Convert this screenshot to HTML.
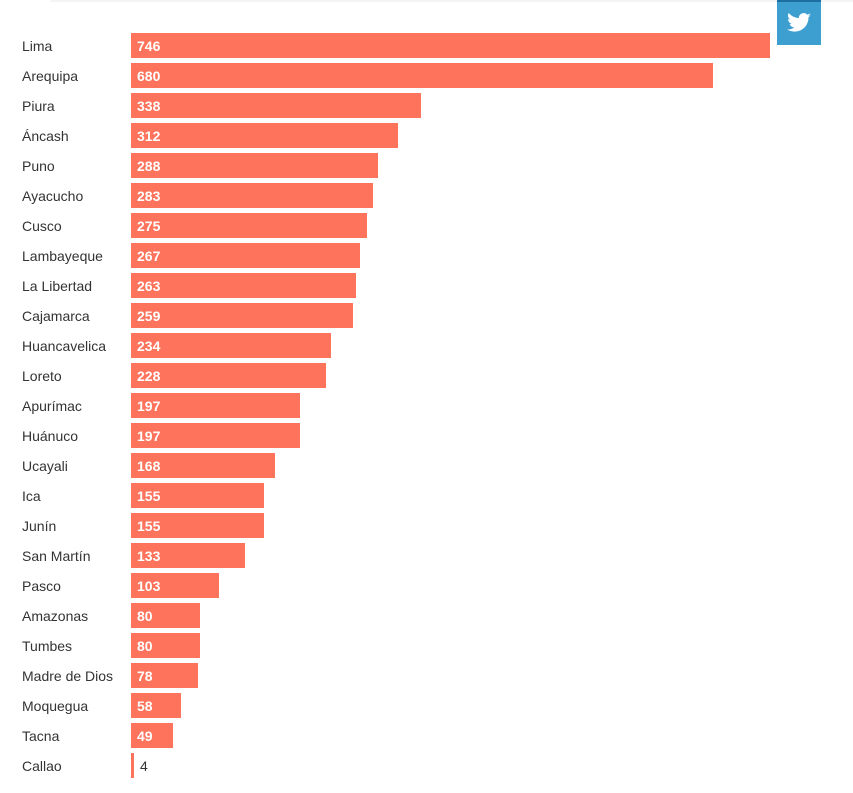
<!DOCTYPE html>
<html><head><style>
body{margin:0;width:853px;height:793px;background:#fff;position:relative;overflow:hidden;font-family:"Liberation Sans",sans-serif}
.l{position:absolute;left:22px;font-size:14px;color:#333;line-height:25px}
.b{position:absolute;left:131px;height:25px;background:#fe735c}
.v{position:absolute;left:137px;font-size:14px;font-weight:bold;color:#fff;line-height:25px}
</style></head><body>
<div style="position:absolute;left:50px;top:0;width:820px;height:2px;background:#f4f4f4"></div>
<div style="position:absolute;left:777px;top:0;width:44px;height:45px;background:#3d9fd0;border-top:2px solid #1c6fa0;box-sizing:border-box"></div>
<svg style="position:absolute;left:787px;top:13px" width="24" height="20" viewBox="0 0 24 20"><path fill="#fff" d="M24 2.3a10 10 0 0 1-2.8.8 5 5 0 0 0 2.1-2.7 10 10 0 0 1-3.1 1.2A4.9 4.9 0 0 0 11.8 5.1 14 14 0 0 1 1.7 0 4.9 4.9 0 0 0 3.2 6.6a4.9 4.9 0 0 1-2.2-.6 4.9 4.9 0 0 0 3.9 4.9 4.9 4.9 0 0 1-2.2.1 4.9 4.9 0 0 0 4.6 3.4A9.9 9.9 0 0 1 0 16.4 14 14 0 0 0 7.5 18.6c9.1 0 14-7.5 14-14v-.6A10 10 0 0 0 24 2.3z"/></svg>
<div id="c"></div>
<script>
var d=[["Lima",746],["Arequipa",680],["Piura",338],["Áncash",312],["Puno",288],["Ayacucho",283],["Cusco",275],["Lambayeque",267],["La Libertad",263],["Cajamarca",259],["Huancavelica",234],["Loreto",228],["Apurímac",197],["Huánuco",197],["Ucayali",168],["Ica",155],["Junín",155],["San Martín",133],["Pasco",103],["Amazonas",80],["Tumbes",80],["Madre de Dios",78],["Moquegua",58],["Tacna",49],["Callao",4]];
var h="";d.forEach(function(r,i){var y=33+i*30,w=Math.round(r[1]*639/746);
h+='<div class="l" style="top:'+(y+1)+'px">'+r[0]+'</div><div class="b" style="top:'+y+'px;width:'+Math.max(w,3)+'px"></div>';
if(r[1]<10)h+='<div class="v" style="top:'+(y+1)+'px;left:140px;color:#333;font-weight:normal">'+r[1]+'</div>';
else h+='<div class="v" style="top:'+(y+1)+'px">'+r[1]+'</div>';});
document.getElementById("c").innerHTML=h;
</script>
</body></html>
